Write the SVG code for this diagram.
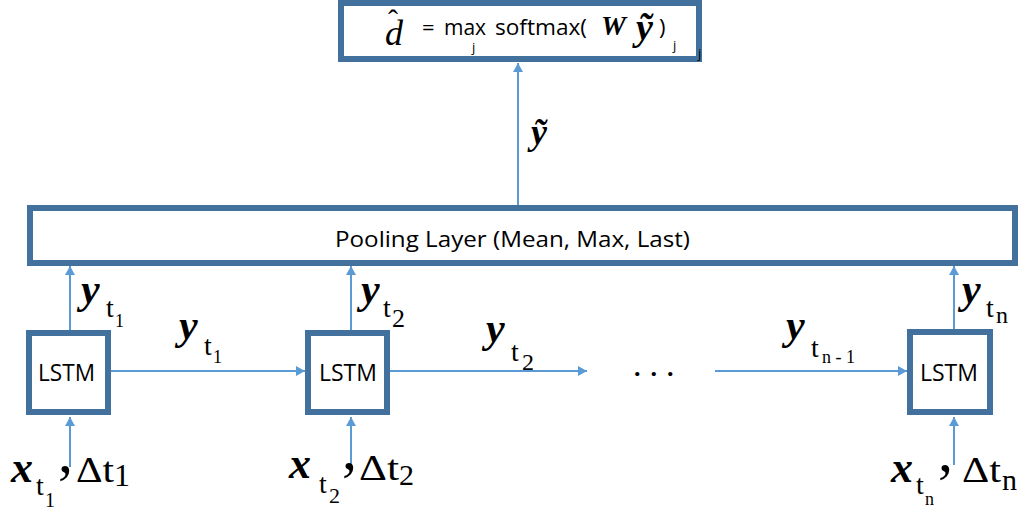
<svg xmlns="http://www.w3.org/2000/svg" width="1028" height="512" viewBox="0 0 1028 512">
<defs>
<marker id="ah" markerUnits="userSpaceOnUse" markerWidth="10" markerHeight="10" refX="9" refY="5" orient="auto">
<path d="M0,0 L9,5 L0,10 z" fill="#5B9BD5"/>
</marker>
<style>
.box{fill:#fff;stroke:#41719C;stroke-width:6}
.arr{stroke:#5B9BD5;stroke-width:2;fill:none;marker-end:url(#ah)}
.sans{font-family:"Open Sans","Noto Sans","Liberation Sans",sans-serif;fill:#000}
.mi{font-family:"Liberation Serif","DejaVu Serif",serif;font-weight:bold;font-style:italic;fill:#000}
.rm{font-family:"Liberation Serif","DejaVu Serif",serif;fill:#000}
.it{font-family:"Liberation Serif","DejaVu Serif",serif;font-style:italic;fill:#000}
</style>
</defs>
<rect width="1028" height="512" fill="#fff"/>

<g id="connectors">
<line class="arr" x1="518" y1="205" x2="518" y2="63"/>
<line class="arr" x1="70" y1="330" x2="70" y2="266"/>
<line class="arr" x1="351" y1="330" x2="351" y2="266"/>
<line class="arr" x1="954" y1="330" x2="954" y2="266"/>
<line class="arr" x1="111" y1="371" x2="305" y2="371"/>
<line class="arr" x1="390" y1="371" x2="587" y2="371"/>
<line class="arr" x1="715" y1="371" x2="907" y2="371"/>
<line class="arr" x1="70" y1="467" x2="70" y2="417"/>
<line class="arr" x1="351" y1="467" x2="351" y2="417"/>
<line class="arr" x1="954" y1="465" x2="954" y2="417"/>
</g>

<g id="output">
<rect class="box" x="341" y="3" width="358" height="56"/>
<text class="it" font-size="36" x="385" y="45">d</text>
<text class="rm" font-size="30" x="388" y="30">ˆ</text>
<text class="sans" font-size="22" x="422" y="35">=</text>
<text class="sans" font-size="21" x="444" y="35">max</text>
<text class="sans" font-size="13" x="472" y="52">j</text>
<text class="sans" font-size="21" x="495" y="35" textLength="92" lengthAdjust="spacingAndGlyphs">softmax(</text>
<text class="mi" font-size="28" x="601" y="35">W</text>
<text class="mi" font-size="38" x="636" y="40">ỹ</text>
<text class="sans" font-size="22" x="659" y="35">)</text>
<text class="sans" font-size="13" x="673" y="50">j</text>
<text class="sans" font-size="13" x="698" y="58">j</text>
</g>

<g id="ytilde-label">
<text class="mi" font-size="36" x="531" y="144">ỹ</text>
</g>

<g id="pooling">
<rect class="box" x="30" y="208" width="985" height="55"/>
<text class="sans" font-size="22" x="335" y="247" textLength="355" lengthAdjust="spacingAndGlyphs">Pooling Layer (Mean, Max, Last)</text>
</g>

<g id="lstm1">
<rect class="box" x="29" y="333" width="79" height="79"/>
<text class="sans" font-size="23" x="38" y="381" textLength="57" lengthAdjust="spacingAndGlyphs">LSTM</text>
</g>
<g id="lstm2">
<rect class="box" x="308" y="333" width="79" height="79"/>
<text class="sans" font-size="23" x="319" y="381" textLength="58" lengthAdjust="spacingAndGlyphs">LSTM</text>
</g>
<g id="lstm3">
<rect class="box" x="910" y="332" width="80" height="80"/>
<text class="sans" font-size="23" x="920" y="381" textLength="58" lengthAdjust="spacingAndGlyphs">LSTM</text>
</g>

<g id="ellipsis">
<text class="rm" font-size="26" font-weight="bold" x="634" y="376" letter-spacing="10">...</text>
</g>

<g id="labels">
<text class="mi" font-size="42" x="81" y="303">y</text>
<text class="rm" font-size="28" x="106" y="317">t</text>
<text class="rm" font-size="18" x="115" y="327">1</text>

<text class="mi" font-size="42" x="361" y="303">y</text>
<text class="rm" font-size="28" x="383" y="317">t</text>
<text class="rm" font-size="26" x="392" y="327">2</text>

<text class="mi" font-size="42" x="962" y="303">y</text>
<text class="rm" font-size="28" x="986" y="317">t</text>
<text class="rm" font-size="24" x="996" y="323">n</text>

<text class="mi" font-size="42" x="179" y="339">y</text>
<text class="rm" font-size="28" x="204" y="355">t</text>
<text class="rm" font-size="18" x="213" y="363">1</text>

<text class="mi" font-size="42" x="486" y="342">y</text>
<text class="rm" font-size="28" x="511" y="361">t</text>
<text class="rm" font-size="24" x="522" y="370">2</text>

<text class="mi" font-size="42" x="786" y="339">y</text>
<text class="rm" font-size="28" x="811" y="357">t</text>
<text class="rm" font-size="18" x="822" y="363">n - 1</text>

<text class="mi" font-size="44" x="11" y="482">x</text>
<text class="rm" font-size="28" x="36" y="495">t</text>
<text class="rm" font-size="20" x="45" y="507">1</text>
<text class="rm" font-size="60" x="58" y="472">,</text>
<text class="rm" font-size="36" x="76" y="482" textLength="38" lengthAdjust="spacingAndGlyphs">Δt</text>
<text class="rm" font-size="32" x="114" y="486">1</text>

<text class="mi" font-size="44" x="289" y="478">x</text>
<text class="rm" font-size="28" x="319" y="493">t</text>
<text class="rm" font-size="22" x="329" y="503">2</text>
<text class="rm" font-size="60" x="342" y="469">,</text>
<text class="rm" font-size="36" x="359" y="480" textLength="40" lengthAdjust="spacingAndGlyphs">Δt</text>
<text class="rm" font-size="30" x="399" y="485">2</text>

<text class="mi" font-size="44" x="891" y="482">x</text>
<text class="rm" font-size="28" x="916" y="494">t</text>
<text class="rm" font-size="18" x="925" y="505">n</text>
<text class="rm" font-size="60" x="938" y="471">,</text>
<text class="rm" font-size="36" x="962" y="482" textLength="39" lengthAdjust="spacingAndGlyphs">Δt</text>
<text class="rm" font-size="30" x="1002" y="490">n</text>
</g>
</svg>
